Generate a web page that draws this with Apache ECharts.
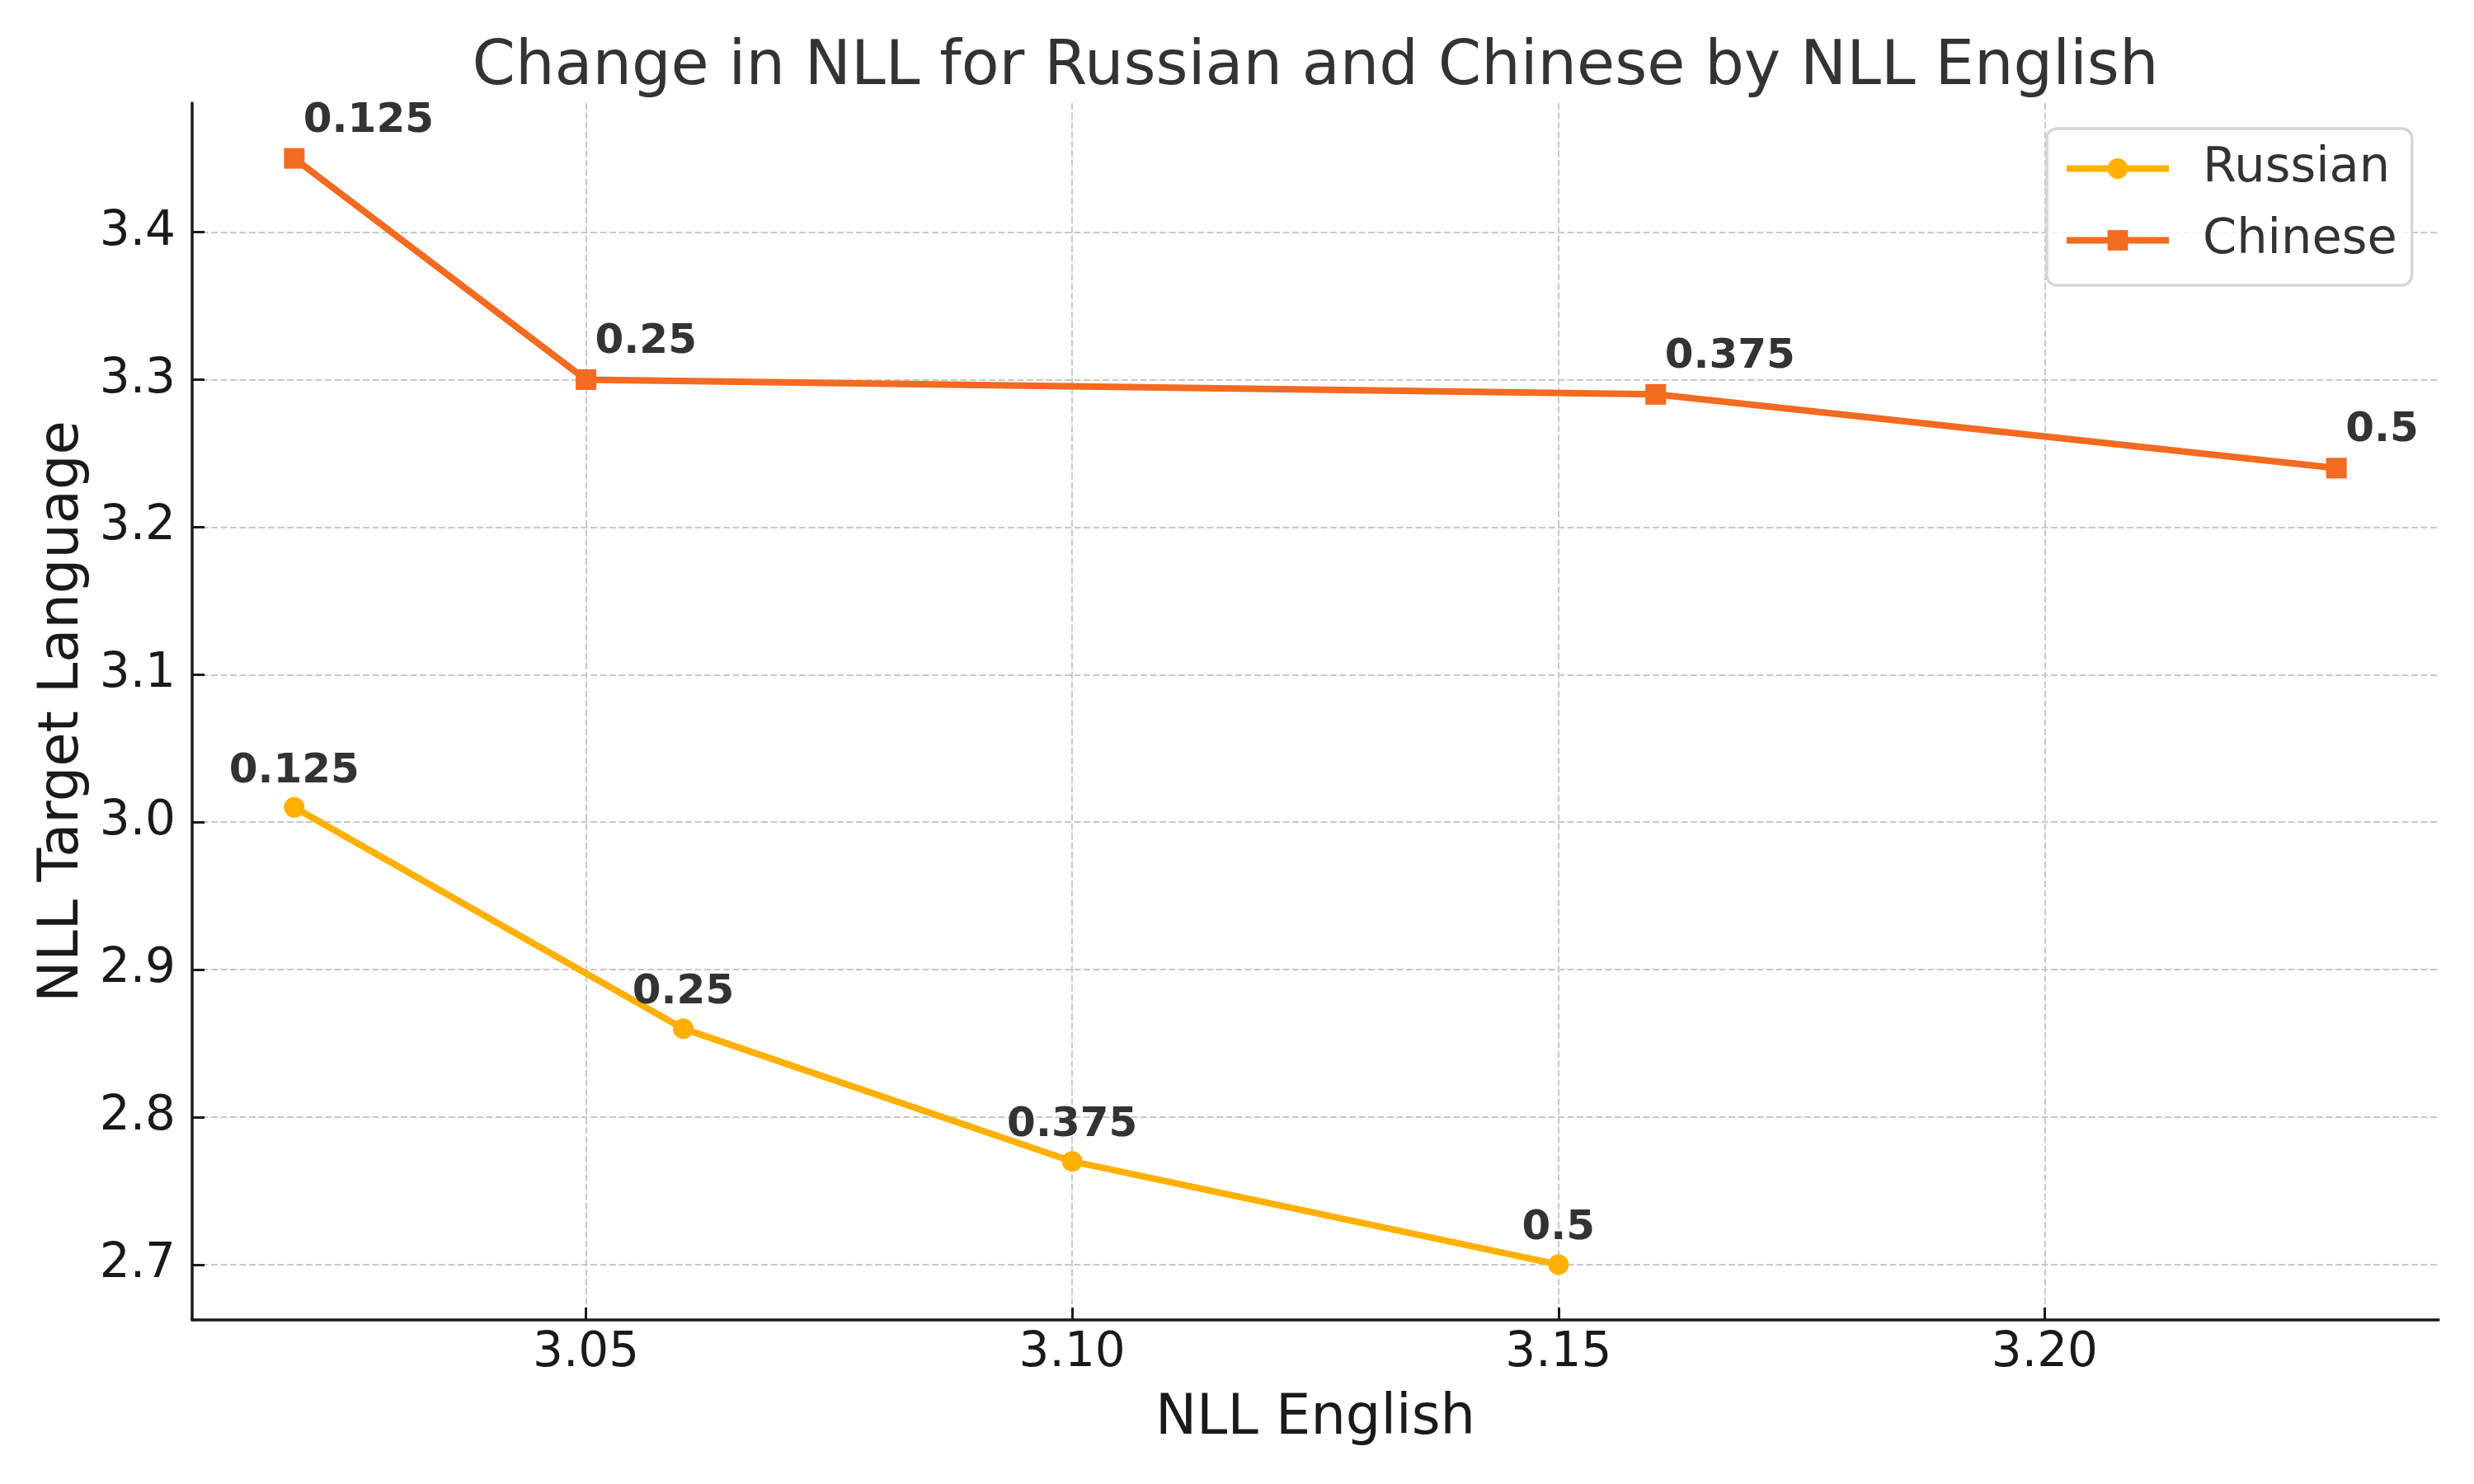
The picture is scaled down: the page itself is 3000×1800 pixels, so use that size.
<!DOCTYPE html>
<html>
<head>
<meta charset="utf-8">
<script src="https://cdn.jsdelivr.net/npm/echarts@6/dist/echarts.min.js"></script>
<style>
html,body{margin:0;padding:0;background:#ffffff;}
#chart{width:3000px;height:1800px;}
</style>
</head>
<body>
<div id="chart"></div>
<script>
// ---- data ----
const titleText = 'Change in NLL for Russian and Chinese by NLL English';
const xAxisName = 'NLL English';
const yAxisName = 'NLL Target Language';
const xTicks = [3.05, 3.10, 3.15, 3.20];
const yTicks = [2.7, 2.8, 2.9, 3.0, 3.1, 3.2, 3.3, 3.4];
const xRange = [3.0095, 3.2405];
const yRange = [2.6625, 3.4875];
const seriesNames = ['Russian', 'Chinese'];
const russianX = [3.02, 3.06, 3.10, 3.15];
const russianY = [3.01, 2.86, 2.77, 2.70];
const russianLabels = ['0.125', '0.25', '0.375', '0.5'];
const chineseX = [3.02, 3.05, 3.16, 3.23];
const chineseY = [3.45, 3.30, 3.29, 3.24];
const chineseLabels = ['0.125', '0.25', '0.375', '0.5'];

const FONT = 'DejaVu Sans';
const colors = ['#FFB000', '#F36A21'];

function pairs(xs, ys) { return xs.map((x, i) => [x, ys[i]]); }

const chart = echarts.init(document.getElementById('chart'), null, { renderer: 'canvas' });

const labelBase = {
  show: true,
  fontFamily: FONT,
  fontWeight: 'bold',
  fontSize: 50,
  color: '#333333',
  position: 'top'
};

chart.setOption({
  animation: false,
  backgroundColor: '#ffffff',
  title: {
    text: titleText,
    left: 1595,
    top: 45,
    padding: 0,
    textAlign: 'center',
    textStyle: { fontFamily: FONT, fontSize: 75, fontWeight: 'normal', color: '#333333' }
  },
  legend: {
    orient: 'vertical',
    left: 2482,
    top: 156,
    padding: [19, 18, 25, 20],
    itemGap: 28,
    itemWidth: 124,
    itemHeight: 31,
    backgroundColor: 'rgba(255,255,255,0.8)',
    borderColor: '#d6d6d6',
    borderWidth: 3.5,
    borderRadius: 12,
    data: seriesNames,
    lineStyle: { width: 8 },
    textStyle: { fontFamily: FONT, fontSize: 59, lineHeight: 58, color: '#333333', padding: [0, 0, 0, 36] }
  },
  grid: { left: 233, right: 43, top: 125, bottom: 199 },
  xAxis: {
    type: 'value',
    min: xRange[0],
    max: xRange[1],
    name: xAxisName,
    nameLocation: 'middle',
    nameGap: 87,
    nameTextStyle: { fontFamily: FONT, fontSize: 67, color: '#1a1a1a' },
    axisLine: { show: true, onZero: false, lineStyle: { color: '#1a1a1a', width: 3.5 } },
    axisTick: { show: true, inside: true, length: 15, customValues: xTicks, lineStyle: { color: '#1a1a1a', width: 3 } },
    axisLabel: {
      customValues: xTicks,
      margin: 12,
      fontFamily: FONT, fontSize: 58, color: '#1a1a1a',
      formatter: v => Number(v).toFixed(2)
    },
    splitLine: { show: true, lineStyle: { color: '#c8c8c8', width: 2, type: [8, 3.5] } }
  },
  yAxis: {
    type: 'value',
    min: yRange[0],
    max: yRange[1],
    name: yAxisName,
    nameLocation: 'middle',
    nameGap: 122,
    nameTextStyle: { fontFamily: FONT, fontSize: 67, color: '#1a1a1a' },
    axisLine: { show: true, onZero: false, lineStyle: { color: '#1a1a1a', width: 3.5 } },
    axisTick: { show: true, inside: true, length: 15, customValues: yTicks, lineStyle: { color: '#1a1a1a', width: 3 } },
    axisLabel: {
      customValues: yTicks,
      margin: 20,
      fontFamily: FONT, fontSize: 58, color: '#1a1a1a',
      formatter: v => Number(v).toFixed(1)
    },
    splitLine: { show: true, lineStyle: { color: '#c8c8c8', width: 2, type: [8, 3.5] } }
  },
  series: [
    {
      name: seriesNames[0],
      type: 'line',
      data: pairs(russianX, russianY),
      symbol: 'circle',
      symbolSize: 25,
      showAllSymbol: true,
      color: colors[0],
      lineStyle: { color: colors[0], width: 8 },
      itemStyle: { color: colors[0] },
      label: Object.assign({}, labelBase, {
        distance: 6,
        formatter: p => russianLabels[p.dataIndex]
      }),
      z: 3
    },
    {
      name: seriesNames[1],
      type: 'line',
      data: pairs(chineseX, chineseY),
      symbol: 'rect',
      symbolSize: 25,
      showAllSymbol: true,
      color: colors[1],
      lineStyle: { color: colors[1], width: 8 },
      itemStyle: { color: colors[1] },
      label: Object.assign({}, labelBase, {
        distance: 8,
        align: 'left',
        offset: [11, 0],
        formatter: p => chineseLabels[p.dataIndex]
      }),
      z: 4
    }
  ]
});
</script>
</body>
</html>
